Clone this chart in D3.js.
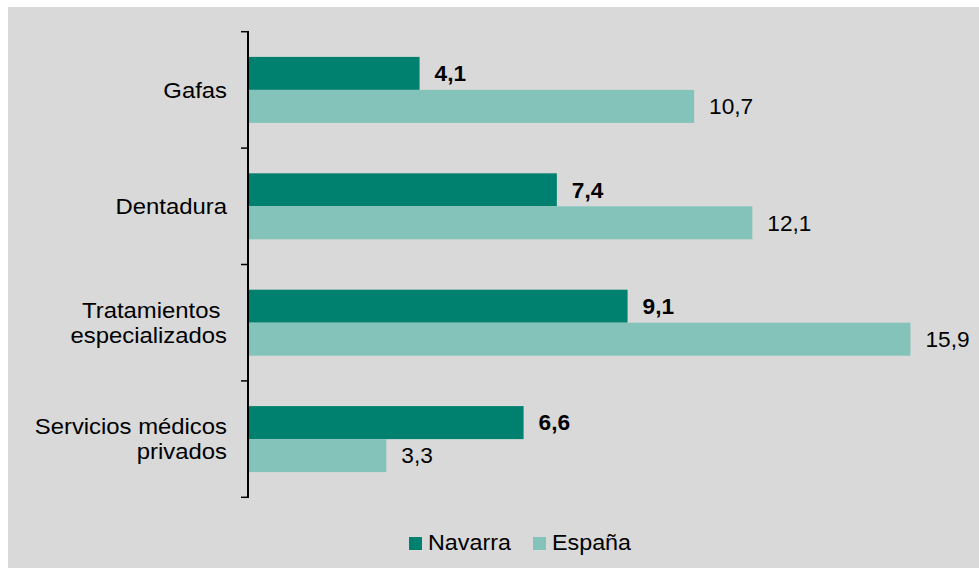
<!DOCTYPE html>
<html><head><meta charset="utf-8">
<script src="https://cdn.jsdelivr.net/npm/d3@7"></script>
<style>
html,body{margin:0;padding:0;background:#fff;}
svg text{font-family:"Liberation Sans",Arial,sans-serif;fill:#000;}
</style>
</head><body>
<svg id="c" width="979" height="568"></svg>
<script>
const categories = ["Gafas", "Dentadura", "Tratamientos especializados", "Servicios médicos privados"];
const categoryLines = [["Gafas"], ["Dentadura"], ["Tratamientos ", "especializados"], ["Servicios médicos", "privados"]];
const seriesNames = ["Navarra", "España"];
const navarra = [4.1, 7.4, 9.1, 6.6];
const espana = [10.7, 12.1, 15.9, 3.3];
const colors = ["#00816f", "#84c3b9"];
const fmt = v => String(v.toFixed(1)).replace(".", ",");

const svg = d3.select("#c");
svg.append("rect").attr("x", 8).attr("y", 7).attr("width", 971).attr("height", 561).attr("fill", "#d9d9d9");

const x = d3.scaleLinear().domain([0, 16]).range([249, 249 + 16 * 41.6]);
const y = d3.scaleBand().domain(categories).range([31.7, 497.3]).paddingInner(0).paddingOuter(0);
const ys = d3.scaleBand().domain(seriesNames).range([0, y.bandwidth()]).paddingInner(0).paddingOuter(0.764);

const values = [navarra, espana];
seriesNames.forEach((s, si) => {
  const g = svg.append("g");
  g.selectAll("rect").data(categories).join("rect")
    .attr("x", x(0))
    .attr("y", (c) => y(c) + ys(s))
    .attr("width", (c, i) => x(values[si][i]) - x(0))
    .attr("height", ys.bandwidth())
    .attr("fill", colors[si]);
  g.selectAll("text").data(categories).join("text")
    .attr("transform", (c, i) => `translate(${x(values[si][i]) + 15},${y(c) + ys(s) + ys.bandwidth() / 2}) scale(1.03,1)`)
    .attr("dy", "0.35em")
    .attr("font-size", 22)
    .attr("font-weight", si === 0 ? "bold" : "normal")
    .text((c, i) => fmt(values[si][i]));
});

// axis
const ax = svg.append("g");
ax.append("line").attr("x1", 248).attr("x2", 248).attr("y1", y.range()[0]).attr("y2", y.range()[1])
  .attr("stroke", "#000").attr("stroke-width", 2);
const tickPos = categories.map(c => y(c)).concat([y.range()[1]]);
ax.selectAll(".tk").data(tickPos).join("line").attr("class", "tk")
  .attr("x1", 241).attr("x2", 249).attr("y1", d => d).attr("y2", d => d)
  .attr("stroke", "#000").attr("stroke-width", 1.5);

// category labels
categories.forEach((c, i) => {
  const lines = categoryLines[i];
  const cy = y(c) + y.bandwidth() / 2;
  const lh = 25;
  const t = svg.append("text").attr("text-anchor", "end").attr("font-size", 22)
    .attr("transform", "translate(227,0) scale(1.085,1)")
    .attr("xml:space", "preserve").style("white-space", "pre");
  lines.forEach((l, li) => {
    t.append("tspan").attr("x", 0)
      .attr("y", cy + (li - (lines.length - 1) / 2) * lh)
      .attr("dy", "0.35em").text(l);
  });
});

// legend
const legX = [409, 533];
seriesNames.forEach((s, i) => {
  svg.append("rect").attr("x", legX[i]).attr("y", 537).attr("width", 13).attr("height", 13).attr("fill", colors[i]);
  svg.append("text").attr("transform", `translate(${legX[i] + 19},550) scale(1.06,1)`).attr("font-size", 22).text(s);
});
</script>
</body></html>
